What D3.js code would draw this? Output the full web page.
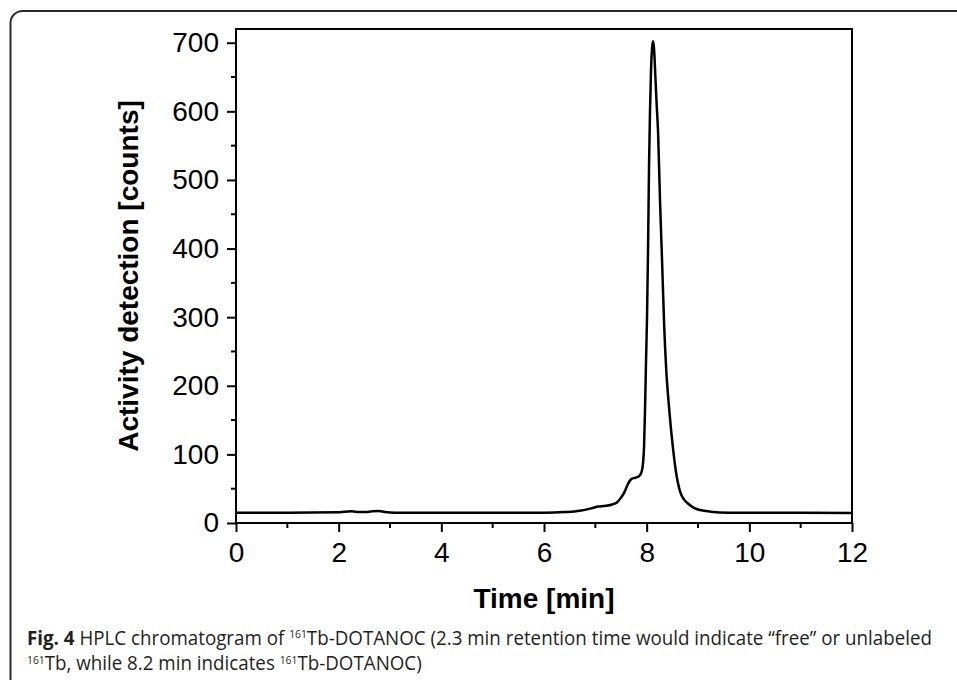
<!DOCTYPE html>
<html>
<head>
<meta charset="utf-8">
<script src="https://cdn.jsdelivr.net/npm/d3@7"></script>
<style>
  body { margin: 0; background: #fff; }
  svg { display: block; }
</style>
</head>
<body>
<div id="chart"></div>
<script>
// retention time [min] and activity counts
const timeMin = [0, 1, 2, 2.12, 2.25, 2.4, 2.52, 2.65, 2.78, 2.9, 3.1, 4, 5, 6,
  6.4, 6.7, 6.9, 7.05, 7.2, 7.33, 7.42, 7.5, 7.56, 7.63, 7.7, 7.78, 7.85, 7.9, 7.93,
  7.949, 7.968, 7.988, 8.007, 8.027, 8.046, 8.065, 8.085, 8.105, 8.124, 8.145, 8.17,
  8.195, 8.222, 8.26, 8.30, 8.34, 8.38, 8.44, 8.51, 8.57, 8.65, 8.73, 8.81, 8.92,
  9.04, 9.25, 9.6, 10, 11, 12];
const counts = [15, 15, 15.5, 16.5, 17, 16, 16, 17, 17.5, 16, 15, 15, 15, 15,
  16, 18, 21, 24, 25, 27, 30, 37, 44, 56, 64, 66, 68, 74, 88,
  111, 165, 238, 300, 400, 520, 600, 660, 692, 702, 690, 650,
  610, 570, 470, 382, 290, 225, 165, 111, 75, 46, 34, 28, 22,
  19, 16.5, 15, 14.8, 14.8, 14.5];

const xMajor = [0, 2, 4, 6, 8, 10, 12];
const xMinor = [1, 3, 5, 7, 9, 11];
const yMajor = [0, 100, 200, 300, 400, 500, 600, 700];
const yMinor = [50, 150, 250, 350, 450, 550, 650];

const W = 957, H = 680;
const plot = {left: 236, right: 852, top: 29, bottom: 523};

function drawChart() {
  const svg = d3.select("#chart").append("svg")
    .attr("width", W)
    .attr("height", H);

  // panel border (only the top-left corner is in view)
  svg.append("rect")
    .attr("x", 10.5).attr("y", 11)
    .attr("width", 1200).attr("height", 1000)
    .attr("rx", 12)
    .attr("fill", "none")
    .attr("stroke", "#2b2b2b")
    .attr("stroke-width", 2);

  const x = d3.scaleLinear().domain([0, 12]).range([plot.left, plot.right]);
  const y = d3.scaleLinear().domain([0, 720]).range([plot.bottom, plot.top]);

  const font = "'Liberation Sans', Arial, sans-serif";

  // x axis, major + minor ticks outward
  const xAxis = svg.append("g").attr("transform", `translate(0,${plot.bottom})`);
  xAxis.call(d3.axisBottom(x).tickValues(xMajor).tickSize(9).tickSizeOuter(0).tickPadding(10).tickFormat(d3.format("d")));
  xAxis.append("g").selectAll("line")
    .data(xMinor)
    .join("line")
      .attr("x1", d => x(d)).attr("x2", d => x(d))
      .attr("y1", 0).attr("y2", 5)
      .attr("stroke", "#000").attr("stroke-width", 2);

  const yAxis = svg.append("g").attr("transform", `translate(${plot.left},0)`);
  yAxis.call(d3.axisLeft(y).tickValues(yMajor).tickSize(9).tickSizeOuter(0).tickPadding(8).tickFormat(d3.format("d")));
  yAxis.append("g").selectAll("line")
    .data(yMinor)
    .join("line")
      .attr("y1", d => y(d)).attr("y2", d => y(d))
      .attr("x1", 0).attr("x2", -5)
      .attr("stroke", "#000").attr("stroke-width", 2);

  svg.selectAll(".domain").remove();
  svg.selectAll(".tick line").attr("stroke", "#000").attr("stroke-width", 2);
  svg.selectAll(".tick text")
    .attr("fill", "#000")
    .style("font-family", font)
    .style("font-size", "28px");
  xAxis.selectAll(".tick text").attr("dy", "0.71em");

  // frame
  svg.append("rect")
    .attr("x", plot.left).attr("y", plot.top)
    .attr("width", plot.right - plot.left)
    .attr("height", plot.bottom - plot.top)
    .attr("fill", "none")
    .attr("stroke", "#000")
    .attr("stroke-width", 2);

  // trace
  const pts = timeMin.map((t, i) => [t, counts[i]]);
  svg.append("path")
    .datum(pts)
    .attr("fill", "none")
    .attr("stroke", "#000")
    .attr("stroke-width", 2.5)
    .attr("stroke-linejoin", "round")
    .attr("d", d3.line()
      .x(d => x(d[0]))
      .y(d => y(d[1]))
      .curve(d3.curveMonotoneX));

  // axis titles
  svg.append("text")
    .attr("x", (plot.left + plot.right) / 2)
    .attr("y", 608)
    .attr("text-anchor", "middle")
    .style("font-family", font)
    .style("font-weight", "bold")
    .style("font-size", "28px")
    .text("Time [min]");

  svg.append("text")
    .attr("transform", "translate(138,276) rotate(-90)")
    .attr("text-anchor", "middle")
    .style("font-family", font)
    .style("font-weight", "bold")
    .style("font-size", "28px")
    .text("Activity detection [counts]");

  // caption
  const cap = svg.append("g")
    .style("font-family", "'Open Sans', 'Noto Sans', sans-serif")
    .style("font-size", "20px")
    .attr("fill", "#231f20");

  const line1 = cap.append("text").attr("x", 27).attr("y", 645);
  line1.append("tspan").style("font-weight", "bold").text("Fig. 4");
  line1.append("tspan").text(" HPLC chromatogram of ");
  line1.append("tspan").style("font-size", "11px").attr("dy", -7).text("161");
  line1.append("tspan").attr("dy", 7).text("Tb-DOTANOC (2.3 min retention time would indicate \u201Cfree\u201D or unlabeled");

  const line2 = cap.append("text").attr("x", 27).attr("y", 670);
  line2.append("tspan").style("font-size", "11px").attr("dy", -6).text("161");
  line2.append("tspan").attr("dy", 6).text("Tb, while 8.2 min indicates ");
  line2.append("tspan").style("font-size", "11px").attr("dy", -6).text("161");
  line2.append("tspan").attr("dy", 6).text("Tb-DOTANOC)");

  // squeeze the caption to the condensed width of the original
  const w1 = line1.node().getComputedTextLength();
  const sx = 906 / w1;
  cap.attr("transform", `translate(27,0) scale(${sx},1) translate(-27,0)`);
}

drawChart();
</script>
</body>
</html>
